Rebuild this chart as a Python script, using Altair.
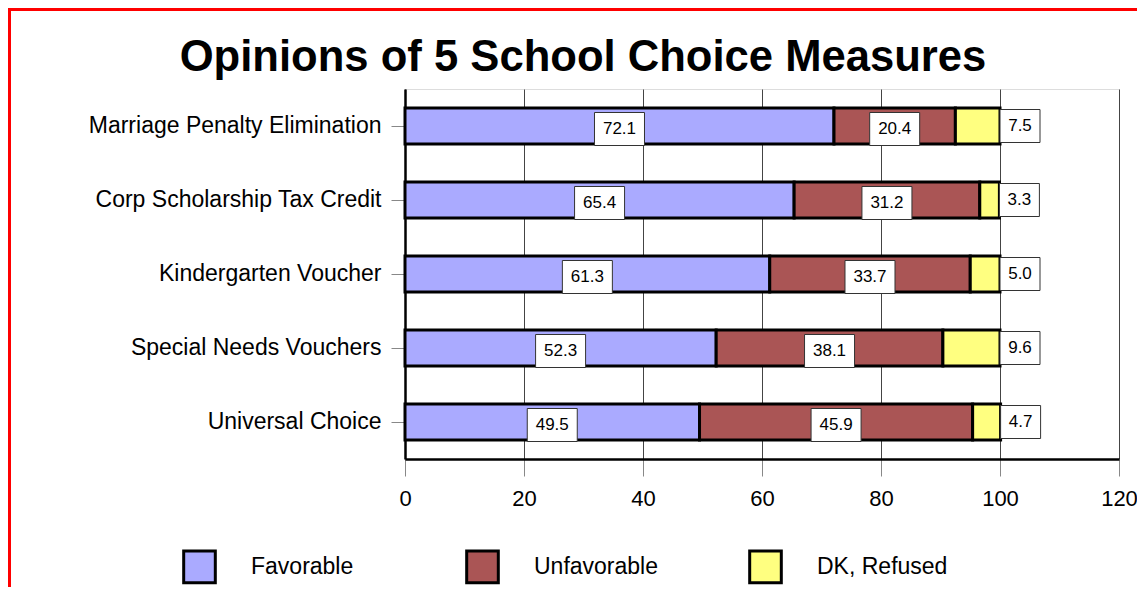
import altair as alt
import pandas as pd

# ---- data ----
measures = [
    "Marriage Penalty Elimination",
    "Corp Scholarship Tax Credit",
    "Kindergarten Voucher",
    "Special Needs Vouchers",
    "Universal Choice",
]
favorable = [72.1, 65.4, 61.3, 52.3, 49.5]
unfavorable = [20.4, 31.2, 33.7, 38.1, 45.9]
dk_refused = [7.5, 3.3, 5.0, 9.6, 4.7]
series = ["Favorable", "Unfavorable", "DK, Refused"]
colors = ["#AAAAFF", "#AA5555", "#FFFF80"]
x_ticks = [0, 20, 40, 60, 80, 100, 120]

FONT = "Liberation Sans"
W, H = 714, 370
X_MAX = 120
PX = W / X_MAX  # pixels per data unit

rows = []
for i, m in enumerate(measures):
    start = 0.0
    for k, (s, vals) in enumerate(zip(series, [favorable, unfavorable, dk_refused])):
        v = vals[i]
        end = start + v
        label = f"{v:.1f}"
        box_w = (10 * len(label) + 10) / PX
        if k < 2:
            center = (start + end) / 2
        else:
            center = end + box_w / 2
        rows.append(dict(measure=m, series=s, order=k, start=start, end=end,
                         label=label, center=center,
                         box_l=center - box_w / 2, box_r=center + box_w / 2))
        start = end
df = pd.DataFrame(rows)

y_enc = alt.Y("measure:N", sort=measures, title=None,
              scale=alt.Scale(paddingInner=0, paddingOuter=0),
              axis=alt.Axis(domainColor="black", domainWidth=2.5, tickColor="#888",
                            tickSize=14, tickWidth=1, labelFontSize=23, labelFont=FONT,
                            labelColor="black", labelPadding=10, labelLimit=400,
                            grid=False))

x_scale = alt.Scale(domain=[0, X_MAX], nice=False, zero=True)

base = alt.Chart(df)

bars = base.mark_bar(size=36, stroke="black", strokeWidth=3).encode(
    x=alt.X("start:Q", scale=x_scale, title=None,
            axis=alt.Axis(values=x_ticks, grid=True, gridColor="#444", gridWidth=1,
                          domainColor="black", domainWidth=2.5, tickColor="#888",
                          tickSize=17, tickWidth=1, labelFontSize=22, labelFont=FONT,
                          labelColor="black", labelPadding=12, labelFlush=False,
                          labelOverlap=False)),
    x2="end:Q",
    y=y_enc,
    order=alt.Order("order:Q"),
    color=alt.Color("series:N", scale=alt.Scale(domain=series, range=colors),
                    legend=alt.Legend(title=None, orient="none", legendX=-223, legendY=460,
                                      direction="horizontal", columns=3,
                                      symbolType="square", symbolSize=1000,
                                      symbolStrokeWidth=3, symbolStrokeColor="black",
                                      symbolOpacity=1, labelFontSize=23, labelFont=FONT,
                                      labelColor="black", labelOffset=34,
                                      columnPadding=78, gridAlign="all", padding=0)),
)


def label_layers(filt, dy):
    sub = base.transform_filter(filt)
    box = sub.mark_bar(size=33, fill="white", stroke="#333", strokeWidth=1,
                       yOffset=dy).encode(
        x=alt.X("box_l:Q", scale=x_scale), x2="box_r:Q", y=y_enc)
    txt = sub.mark_text(fontSize=17, font=FONT, color="black", align="center",
                        baseline="middle", yOffset=dy).encode(
        x=alt.X("center:Q", scale=x_scale), y=y_enc, text="label:N")
    return [box, txt]


fu = label_layers("datum.order < 2", 3)
dk = label_layers("datum.order == 2", 0)

frame_data = alt.Data(values=[{"k": 0}])
left_line = alt.Chart(frame_data).mark_rule(color="red", strokeWidth=3).encode(
    x=alt.value(-395.5), y=alt.value(-79.5), y2=alt.value(600))
top_line = alt.Chart(frame_data).mark_rule(color="red", strokeWidth=3).encode(
    x=alt.value(-400), x2=alt.value(900), y=alt.value(-79.5))

chart = alt.layer(bars, *fu, *dk, left_line, top_line).properties(
    width=W, height=H,
    title=alt.TitleParams("Opinions of 5 School Choice Measures", fontSize=43.6, font=FONT,
                          fontWeight="bold", color="black", anchor="middle",
                          frame="group", dx=-179, dy=107, offset=0, baseline="alphabetic"),
    autosize=alt.AutoSizeParams(type="none"),
    padding={"left": 397, "top": 81, "right": 18, "bottom": 128},
).configure_view(stroke=None).configure(font=FONT)

chart.save("out.html", embed_options={"renderer": "svg", "actions": False})
